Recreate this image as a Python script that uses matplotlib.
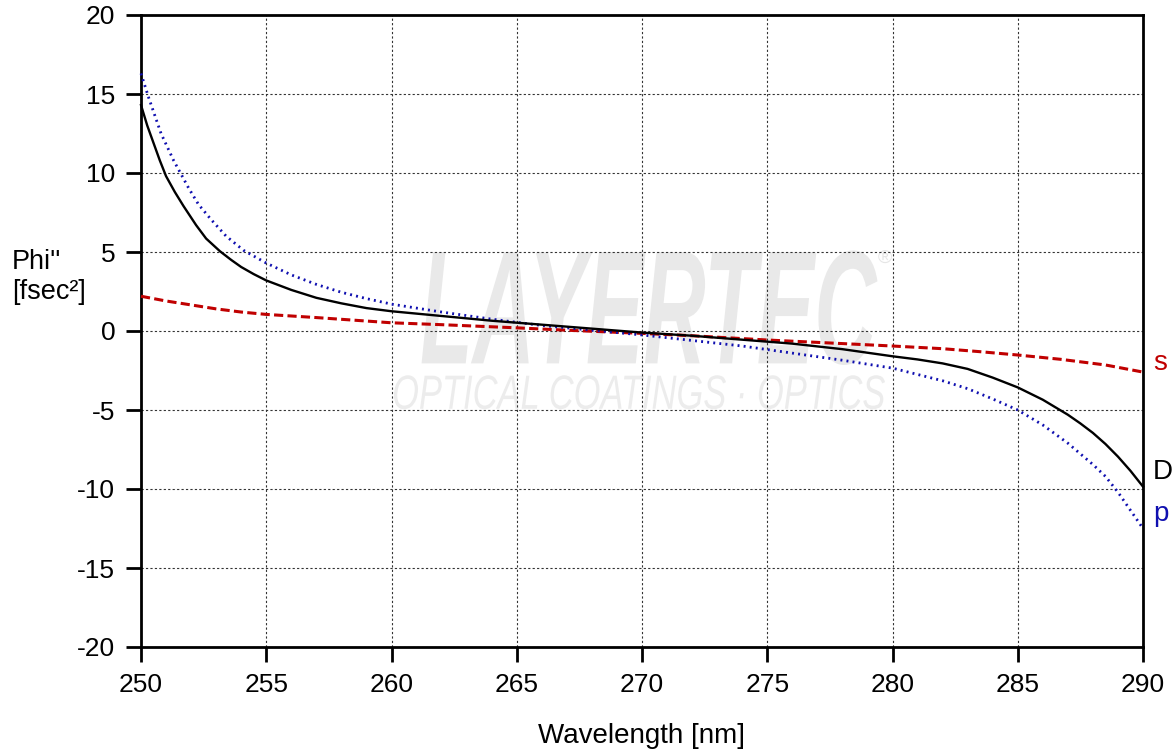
import numpy as np
import matplotlib
matplotlib.use("Agg")
import matplotlib.pyplot as plt
from matplotlib.textpath import TextPath
from matplotlib.patches import PathPatch
from matplotlib.font_manager import FontProperties
from matplotlib.transforms import Affine2D

plt.rcParams['font.family'] = ['Liberation Sans', 'DejaVu Sans']
plt.rcParams['axes.unicode_minus'] = False

# datos
wl_D = [250, 250.25, 250.5, 250.75, 251, 251.35, 251.7, 252.2, 252.6, 253.15, 253.6, 254, 254.5,
        255, 256, 257, 258, 259, 260, 262, 264, 266, 268, 270, 272, 274, 276, 278,
        280, 281, 282, 283, 284, 285, 286, 287, 287.5, 288, 288.5, 289, 289.5, 290]
phi_D = [14.3, 13.0, 11.9, 10.8, 9.8, 8.8, 7.9, 6.7, 5.85, 5.05, 4.5, 4.05, 3.6,
         3.2, 2.6, 2.1, 1.75, 1.45, 1.25, 0.95, 0.65, 0.4, 0.15, -0.1, -0.3, -0.55, -0.8, -1.15,
         -1.6, -1.8, -2.05, -2.4, -2.95, -3.57, -4.35, -5.3, -5.85, -6.45, -7.15, -7.95, -8.85, -9.85]

wl_p = [250, 250.3, 250.8, 251.3, 251.9, 252.3, 252.8, 253.4, 254.1, 255, 256, 257, 258, 259, 260,
        262, 264, 266, 268, 270, 272, 274, 276, 278, 280, 281, 282, 283, 284,
        285, 286, 287, 288, 288.5, 289, 289.5, 290]
phi_p = [16.3, 14.8, 12.5, 10.8, 9.05, 8.0, 7.05, 6.0, 5.1, 4.3, 3.55, 2.95, 2.45, 2.05, 1.7,
         1.2, 0.75, 0.35, 0.05, -0.25, -0.6, -0.95, -1.4, -1.85, -2.35, -2.75, -3.15, -3.65, -4.3,
         -5.0, -5.95, -7.1, -8.45, -9.2, -10.2, -11.35, -12.5]

wl_s = [250, 251, 252, 253, 254, 255, 257, 260, 262, 265, 267, 270, 272, 275,
        277, 280, 282, 283.5, 285, 286.7, 288.5, 290]
phi_s = [2.2, 1.9, 1.65, 1.4, 1.2, 1.05, 0.85, 0.52, 0.4, 0.2, 0.05, -0.15, -0.3,
         -0.57, -0.72, -0.95, -1.12, -1.31, -1.52, -1.79, -2.15, -2.6]

rojo = '#c00000'
azul = '#1010b0'

fig = plt.figure(figsize=(11.76, 7.51), dpi=100)
ax = fig.add_axes([141/1176, 1 - 647/751, 1002/1176, 632/751])

# marca de agua
def marca(texto, x0, x1, y0, y1, prop, color):
    tp = TextPath((0, 0), texto, size=1, prop=prop)
    bb = tp.get_extents()
    tr = Affine2D().translate(-bb.x0, -bb.y0).scale((x1 - x0) / bb.width, (y1 - y0) / bb.height).translate(x0, y0)
    ax.add_patch(PathPatch(tr.transform_path(tp), facecolor=color, edgecolor='none', zorder=0))

marca("LAYERTEC", 261.2, 279.4, -2.15, 5.1,
      FontProperties(family='Liberation Sans', weight='bold', style='italic'), '#e9e9e9')
marca("OPTICAL COATINGS · OPTICS", 260.1, 279.7, -4.95, -2.8,
      FontProperties(family='Liberation Sans', style='italic'), '#ececec')
ax.text(279.7, 4.6, "®", fontsize=14, color='#e6e6e6', ha='center', va='center', zorder=0)

ax.plot(wl_s, phi_s, color=rojo, lw=2.2, linestyle=(0, (3, 1.4)), zorder=3, clip_on=False)
ax.plot(wl_D, phi_D, color='black', lw=1.7, zorder=4, clip_on=False)
ax.plot(wl_p, phi_p, color=azul, lw=2, linestyle=(0, (0.7, 1.5)), zorder=3, clip_on=False)

ax.set_xlim(250, 290)
ax.set_ylim(-20, 20)
ax.set_xticks(np.arange(250, 291, 5))
ax.set_yticks(np.arange(-20, 21, 5))
ax.grid(True, color='#333333', lw=0.8, linestyle=(0, (2, 2)))
ax.tick_params(direction='out', length=10.5, width=2, labelsize=19, pad=8)
for sp in ax.spines.values():
    sp.set_linewidth(2)

ax.set_xlabel("Wavelength [nm]", fontsize=20, labelpad=19)

fig.text(12/1176, 1 - 262/751, "Phi''", fontsize=19.5, va='center', ha='left')
fig.text(12/1176, 1 - 292/751, "[fsec²]", fontsize=19.5, va='center', ha='left')

ax.text(290.4, -2.0, "s", color=rojo, fontsize=20, ha='left', va='center', clip_on=False)
ax.text(290.4, -8.9, "D", color='black', fontsize=20, ha='left', va='center', clip_on=False)
ax.text(290.4, -11.6, "p", color=azul, fontsize=20, ha='left', va='center', clip_on=False)

fig.savefig("out.png", dpi=100)
